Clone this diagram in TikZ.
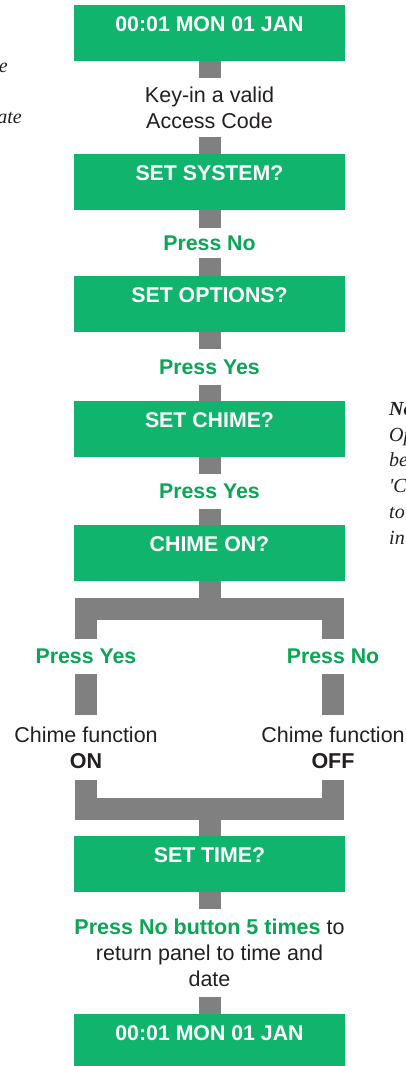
\documentclass[tikz,border=0pt]{standalone}
\usepackage{fontspec}
\setmainfont{Liberation Sans}
\newfontfamily\notefont{Liberation Serif}
\definecolor{boxgreen}{RGB}{16,180,108}
\definecolor{textgreen}{RGB}{10,166,84}
\definecolor{bargray}{RGB}{128,128,128}
\definecolor{ink}{RGB}{35,31,32}

\begin{document}
\begin{tikzpicture}[x=1pt, y=-1pt,
  panel/.style={fill=boxgreen, text=white, font=\fontsize{21.3}{26}\selectfont\bfseries, minimum width=271pt, inner sep=0pt, text height=26pt, text depth=30pt},
  say/.style={text=ink, font=\fontsize{21.5}{26}\selectfont, align=center, inner sep=0pt},
  press/.style={text=textgreen, font=\fontsize{21.3}{26}\selectfont\bfseries, inner sep=0pt},
  bar/.style={draw=bargray, line width=22pt, line join=miter},
  sidenote/.style={text=ink, font=\notefont\itshape\fontsize{20}{25.8}\selectfont, inner sep=0pt}]
\useasboundingbox (0,0) rectangle (406,1066);
\node[panel] (clock) at (209.5,33) {00:01 MON 01 JAN};
\node[say, minimum height=59pt] (code) at (209.5,107.5) {Key-in a valid\\Access Code};
\node[panel] (system) at (209.5,182) {SET SYSTEM?};
\node[press, minimum height=30pt] (no1) at (209.5,243) {Press No};
\node[panel] (options) at (209.5,304) {SET OPTIONS?};
\node[press, minimum height=36pt] (yes1) at (209.5,367) {Press Yes};
\node[panel] (chime) at (209.5,429) {SET CHIME?};
\node[press, minimum height=35pt] (yes2) at (209.5,491.5) {Press Yes};
\node[panel] (chimeon) at (209.5,553) {CHIME ON?};
\coordinate (fork) at (209.5,609);
\node[press, minimum height=35pt] (yes3) at (86,656.5) {Press Yes};
\node[press, minimum height=35pt] (no2) at (333,656.5) {Press No};
\node[say, minimum height=65pt] (on) at (86,747.5) {Chime function\\\textbf{ON}};
\node[say, minimum height=65pt] (off) at (333,747.5) {Chime function\\\textbf{OFF}};
\coordinate (merge) at (209.5,809);
\node[panel] (time) at (209.5,864) {SET TIME?};
\node[say, minimum height=88pt] (back) at (209.5,953) {\textcolor{textgreen}{\textbf{Press No button 5 times}} to\\return panel to time and\\date};
\node[panel] (clock2) at (209.5,1042) {00:01 MON 01 JAN};

\draw[bar] (clock) -- (code);
\draw[bar] (code) -- (system);
\draw[bar] (system) -- (no1);
\draw[bar] (no1) -- (options);
\draw[bar] (options) -- (yes1);
\draw[bar] (yes1) -- (chime);
\draw[bar] (chime) -- (yes2);
\draw[bar] (yes2) -- (chimeon);
\draw[bar] (chimeon) -- (fork);
\draw[bar] (yes3) |- (fork) -| (no2);
\draw[bar] (yes3) -- (on);
\draw[bar] (no2) -- (off);
\draw[bar] (on) |- (merge) -| (off);
\draw[bar] (merge) -- (time);
\draw[bar] (time) -- (back);
\draw[bar] (back) -- (clock2);

\begin{scope}
\clip (0,0) rectangle (406,1066);
\node[sidenote, anchor=base east] (cut1) at (8,72) {e};
\node[sidenote, anchor=base east] (cut2) at (22,123) {ate};
\node[sidenote, anchor=north west, align=left] (cut3) at (389,402) {\textbf{No}\\Op\\be\\'C\\to\\in};
\end{scope}
\end{tikzpicture}
\end{document}
